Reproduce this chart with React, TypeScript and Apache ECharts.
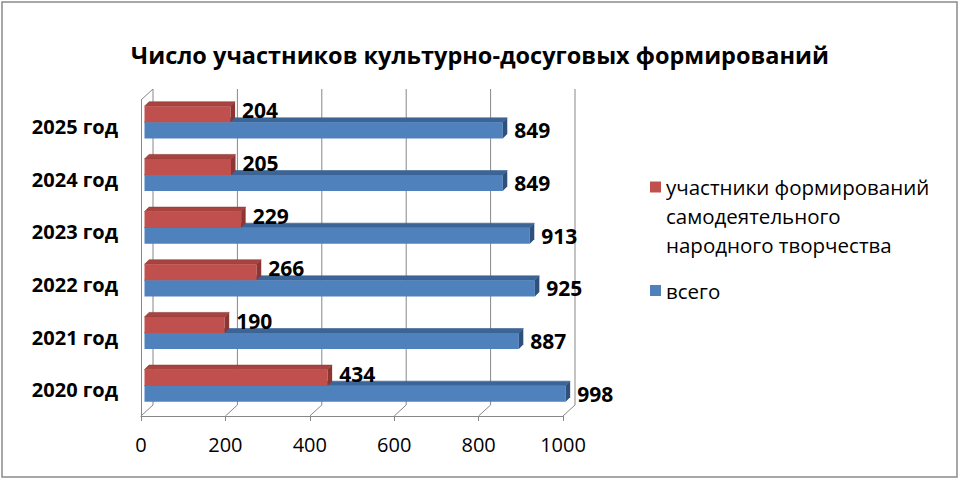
import { useEffect, useRef } from "react";
import * as echarts from "echarts";

const chartTitle = "Число участников культурно-досуговых формирований";
const categories = ["2020 год", "2021 год", "2022 год", "2023 год", "2024 год", "2025 год"];
const participants = [434, 190, 266, 229, 205, 204];
const totals = [998, 887, 925, 913, 849, 849];
const xTicks = [0, 200, 400, 600, 800, 1000];
const seriesNames = [
  "участники формирований самодеятельного народного творчества",
  "всего",
];
const legendLines = ["участники формирований", "самодеятельного", "народного творчества"];

const FONT = "'Open Sans', 'Noto Sans', sans-serif";
const GRID_COLOR = "#878787";
// 3D wall depth (back plane offset)
const DX = 12;
const DY = 11;
// bars sit at mid-depth
const SX = 3.5;
const SY = 4;
const BD = 4.5; // bar depth

const palettes = {
  red: { front: "#C0504D", top: "#A8433F", side: "#8C3532", edge: "#8E3B38" },
  blue: { front: "#4F81BD", top: "#3C6597", side: "#2E507C", edge: "#3A6290" },
};

function makeBarRender(pal: any, pos: "upper" | "lower", labelDy: number) {
  return (params: any, api: any) => {
    const v = api.value(0);
    const ci = api.value(1);
    const p0 = api.coord([0, ci]);
    const p1 = api.coord([v, ci]);
    const band = api.size([0, 1])[1];
    const h = band * 0.305;
    const yc = p0[1] - SY;
    const yt = pos === "upper" ? yc - h : yc;
    const x0 = p0[0] + SX;
    const x1 = p1[0] + SX;
    return {
      type: "group",
      children: [
        {
          type: "polygon",
          shape: { points: [[x0, yt], [x1, yt], [x1 + BD, yt - BD], [x0 + BD, yt - BD]] },
          style: { fill: pal.top, stroke: pal.edge, lineWidth: 0.6 },
        },
        {
          type: "rect",
          shape: { x: x0, y: yt, width: x1 - x0, height: h },
          style: { fill: pal.front },
        },
        {
          type: "polygon",
          shape: { points: [[x1, yt], [x1 + BD, yt - BD], [x1 + BD, yt + h - BD], [x1, yt + h]] },
          style: { fill: pal.side },
        },
        {
          type: "text",
          style: {
            text: String(v),
            x: x1 + BD + 7,
            y: yt + h / 2 + labelDy,
            verticalAlign: "middle",
            align: "left",
            fontFamily: FONT,
            fontWeight: "bold",
            fontSize: 21,
            fill: "#000",
          },
        },
      ],
    };
  };
}

function frameRender(params: any, api: any) {
  const cs = params.coordSys;
  const top = cs.y;
  const bottom = cs.y + cs.height;
  const left = cs.x;
  const children: any[] = [];
  const ls = { stroke: GRID_COLOR, lineWidth: 1 };
  xTicks.forEach((t) => {
    const x = api.coord([t, 0])[0];
    children.push({
      type: "line",
      shape: { x1: x + DX, y1: top - DY, x2: x + DX, y2: bottom - DY },
      style: ls,
    });
    children.push({
      type: "line",
      shape: { x1: x, y1: bottom, x2: x + DX, y2: bottom - DY },
      style: ls,
    });
  });
  children.push({
    type: "line",
    shape: { x1: left, y1: top, x2: left + DX, y2: top - DY },
    style: ls,
  });
  return { type: "group", children };
}

export default function App() {
  const ref = useRef<HTMLDivElement>(null);
  useEffect(() => {
    if (!ref.current) return;
    const chart = echarts.init(ref.current, null, { renderer: "svg" });
    chart.setOption({
      animation: false,
      backgroundColor: "#ffffff",
      title: {
        text: chartTitle,
        left: "center",
        top: 38,
        textStyle: { fontFamily: FONT, fontWeight: "bold", fontSize: 23.5, color: "#000" },
      },
      legend: [
        {
          data: [{ name: seriesNames[0], icon: "rect" }],
          left: 645,
          top: 109.5,
          itemWidth: 11,
          itemHeight: 11,
          selectedMode: false,
          formatter: () => "\n\n" + legendLines.join("\n"),
          textStyle: {
            fontFamily: FONT,
            fontSize: 20.5,
            color: "#000",
            lineHeight: 29,
          },
        },
        {
          data: [{ name: seriesNames[1], icon: "rect" }],
          left: 645,
          top: 271,
          itemWidth: 11,
          itemHeight: 11,
          selectedMode: false,
          textStyle: { fontFamily: FONT, fontSize: 20.5, color: "#000", lineHeight: 29 },
        },
      ],
      grid: { left: 141, top: 100, width: 422, height: 316, containLabel: false },
      xAxis: {
        type: "value",
        min: 0,
        max: 1000,
        interval: 200,
        axisLine: { show: true, lineStyle: { color: GRID_COLOR, width: 1 } },
        axisTick: { show: true, length: 5, lineStyle: { color: GRID_COLOR } },
        axisLabel: {
          fontFamily: FONT,
          fontSize: 20,
          color: "#000",
          margin: 18,
          formatter: (v: number) => String(v),
        },
        splitLine: { show: false },
      },
      yAxis: {
        type: "category",
        data: categories,
        axisLine: { show: true, lineStyle: { color: GRID_COLOR, width: 1 } },
        axisTick: { show: false },
        axisLabel: { fontFamily: FONT, fontWeight: "bold", fontSize: 20, color: "#000", margin: 23 },
        splitLine: { show: false },
      },
      graphic: [
        {
          type: "rect",
          shape: { x: 2, y: 2, width: 955, height: 475 },
          style: { fill: "none", stroke: "#8a8a8a", lineWidth: 1.5 },
          silent: true,
        },
      ],
      series: [
        {
          type: "custom",
          name: "frame",
          silent: true,
          z: 1,
          renderItem: frameRender,
          encode: { x: 0, y: 1 },
          data: [[0, 0]],
          tooltip: { show: false },
        },
        {
          type: "custom",
          name: seriesNames[1],
          color: palettes.blue.front,
          z: 2,
          renderItem: makeBarRender(palettes.blue, "lower", 0),
          encode: { x: 0, y: 1 },
          data: totals.map((v, i) => [v, i]),
        },
        {
          type: "custom",
          name: seriesNames[0],
          color: palettes.red.front,
          z: 3,
          renderItem: makeBarRender(palettes.red, "upper", -4),
          encode: { x: 0, y: 1 },
          data: participants.map((v, i) => [v, i]),
        },
      ],
    });
    return () => chart.dispose();
  }, []);
  return (
    <div
      ref={ref}
      style={{ position: "fixed", left: 0, top: 0, width: 960, height: 480, background: "#fff" }}
    />
  );
}
